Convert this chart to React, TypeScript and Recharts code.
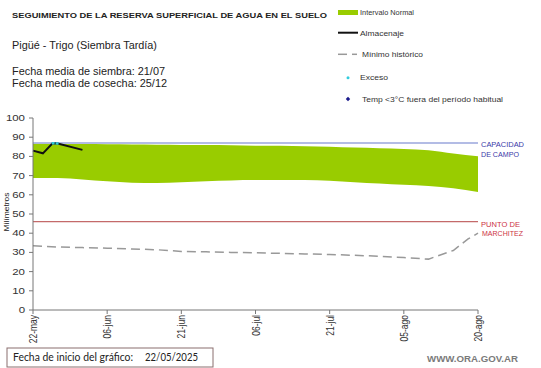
import React from 'react';
import { ComposedChart, Area, Line, XAxis, YAxis, ReferenceLine } from 'recharts';

// days counted from 22-may
const dayTicks = [0, 15, 30, 45, 60, 75, 90];
const tickLabels = ['22-may', '06-jun', '21-jun', '06-jul', '21-jul', '05-ago', '20-ago'];
const yTicks = [0, 10, 20, 30, 40, 50, 60, 70, 80, 90, 100];

const bandDays = [0, 5, 10, 15, 20, 25, 30, 35, 40, 45, 50, 55, 60, 65, 70, 75, 80, 85, 90];
const bandHigh = [86.6, 86.5, 86.4, 86.3, 86.2, 86.1, 86, 85.9, 85.8, 85.6, 85.5, 85.3, 85, 84.6, 84.3, 83.9, 83.2, 81.5, 80.1];
const bandLow = [68.8, 68.7, 68, 67, 66.3, 66.2, 66.6, 67.1, 67.5, 67.7, 67.7, 67.7, 67.3, 66.6, 65.9, 65.2, 64.6, 63.4, 61.4];

const almDays = [0, 2, 4, 5, 10];
const almValues = [83, 81.6, 86.9, 86.7, 83.4];

const excDays = [3.8, 4, 5, 5.4];
const excValues = [86.6, 86.9, 86.7, 86.6];

const minDays = [0, 5, 10, 15, 20, 25, 30, 35, 40, 45, 50, 55, 60, 65, 70, 75, 80, 85, 88, 90];
const minValues = [33.4, 32.8, 32.5, 32.2, 31.8, 31.4, 30.5, 30.3, 30, 29.8, 29.5, 29.2, 28.9, 28.5, 28, 27.3, 26.5, 31, 37, 40];

const capacidad = 87;
const marchitez = 46;

const bandData = bandDays.map((d, i) => ({ day: d, range: [bandLow[i], bandHigh[i]] }));
const almData = almDays.map((d, i) => ({ day: d, v: almValues[i] }));
const excData = excDays.map((d, i) => ({ day: d, v: excValues[i] }));
const minData = minDays.map((d, i) => ({ day: d, v: minValues[i] }));

const ARIAL = '"Liberation Sans", Arial, sans-serif';

const XTick = (props: any) => {
    const { x, y, payload } = props;
    const idx = dayTicks.indexOf(payload.value);
    return (
        <g transform={`translate(${x},${y}) scale(1.35,1)`}>
            <text transform="rotate(-90)" textAnchor="end" dy="0.35em" fontSize={8.5} fontFamily={ARIAL} fill="#333">
                {tickLabels[idx]}
            </text>
        </g>
    );
};

const YTick = (props: any) => {
    const { x, y, payload } = props;
    return (
        <g transform={`translate(${x},${y}) scale(1.35,1)`}>
            <text textAnchor="end" dy="0.35em" fontSize={8.5} fontFamily={ARIAL} fill="#333">
                {payload.value}
            </text>
        </g>
    );
};

const T = ({ x, y, w, size, fill = '#222', weight = 'normal', family = ARIAL, children }: any) => (
    <text x={x} y={y} fontSize={size} fill={fill} fontWeight={weight} fontFamily={family}
        textLength={w} lengthAdjust="spacingAndGlyphs">
        {children}
    </text>
);

export default function App() {
    return (
        <div style={{ position: 'absolute', left: 0, top: 0, width: 541, height: 368, background: '#fff' }}>
            <ComposedChart width={541} height={368} margin={{ top: 118, right: 63, bottom: 0, left: 0 }}>
                <XAxis
                    type="number"
                    dataKey="day"
                    domain={[0, 90]}
                    ticks={dayTicks}
                    interval={0}
                    height={58}
                    stroke="#777"
                    tickSize={4}
                    tickMargin={1}
                    tick={<XTick />}
                />
                <YAxis
                    type="number"
                    domain={[0, 100]}
                    ticks={yTicks}
                    interval={0}
                    width={33}
                    stroke="#777"
                    tickSize={4}
                    tickMargin={4}
                    tick={<YTick />}
                />
                <Area data={bandData} dataKey="range" type="monotone" fill="#99cc00" fillOpacity={1} stroke="none" isAnimationActive={false} />
                <ReferenceLine y={capacidad} stroke="#9aa6dc" strokeWidth={1.5} />
                <ReferenceLine y={marchitez} stroke="#c46a6a" strokeWidth={1.2} />
                <Line data={minData} dataKey="v" type="linear" stroke="#999" strokeWidth={1.5} strokeDasharray="9 5" dot={false} isAnimationActive={false} />
                <Line data={almData} dataKey="v" type="linear" stroke="#111" strokeWidth={2} dot={false} isAnimationActive={false} />
                <Line data={excData} dataKey="v" type="linear" stroke="#33ccdd" strokeWidth={2.5} strokeDasharray="3 1" dot={false} isAnimationActive={false} />
            </ComposedChart>
            <svg width={541} height={368} style={{ position: 'absolute', left: 0, top: 0, pointerEvents: 'none' }}>
                <T x={12} y={18.3} w={315} size={7.8} weight="bold">SEGUIMIENTO DE LA RESERVA SUPERFICIAL DE AGUA EN EL SUELO</T>
                <T x={12} y={49.3} w={145} size={10.7}>Pigüé - Trigo (Siembra Tardía)</T>
                <T x={12} y={75} w={153} size={10.5}>Fecha media de siembra: 21/07</T>
                <T x={12} y={87.3} w={155} size={10.5}>Fecha media de cosecha: 25/12</T>

                <rect x={338} y={10} width={20} height={5} fill="#99cc00" />
                <T x={360} y={15} w={54} size={8} fill="#333">Intervalo Normal</T>
                <line x1={338} x2={358} y1={32.7} y2={32.7} stroke="#111" strokeWidth={2} />
                <T x={360} y={35.7} w={44} size={8} fill="#333">Almacenaje</T>
                <line x1={338} x2={347} y1={54.3} y2={54.3} stroke="#999" strokeWidth={1.5} />
                <line x1={352} x2={357} y1={54.3} y2={54.3} stroke="#999" strokeWidth={1.5} />
                <T x={362} y={56.7} w={61} size={8} fill="#333">Mínimo histórico</T>
                <circle cx={348} cy={77.7} r={1.5} fill="#33ccdd" />
                <T x={360} y={80} w={28} size={8} fill="#333">Exceso</T>
                <polygon points="348,96.8 350.2,99 348,101.2 345.8,99" fill="#1a1a8c" />
                <T x={362} y={102} w={141} size={8} fill="#333">Temp &lt;3°C fuera del período habitual</T>

                <T x={481} y={147.3} w={43} size={7.2} fill="#3a3aa8">CAPACIDAD</T>
                <T x={481} y={156.7} w={38} size={7.2} fill="#3a3aa8">DE  CAMPO</T>
                <T x={481} y={227.3} w={39} size={7.2} fill="#cc3344">PUNTO  DE</T>
                <T x={482} y={236} w={41} size={7.2} fill="#cc3344">MARCHITEZ</T>

                <text transform="translate(8.5,212) rotate(-90)" textAnchor="middle" fontSize={7} fontFamily={ARIAL}
                    fill="#222" textLength={39} lengthAdjust="spacingAndGlyphs">Milímetros</text>

                <rect x={7} y={348} width={206} height={19} fill="none" stroke="#8a6e6e" strokeWidth={1} />
                <T x={13} y={360.7} w={120} size={10.5} family="Lato, sans-serif">Fecha de inicio del gráfico:</T>
                <T x={145} y={360.7} w={53} size={10.5} family="Lato, sans-serif">22/05/2025</T>

                <T x={427} y={361.7} w={91} size={9.5} weight="bold" fill="#7a7a7a">WWW.ORA.GOV.AR</T>
            </svg>
        </div>
    );
}
